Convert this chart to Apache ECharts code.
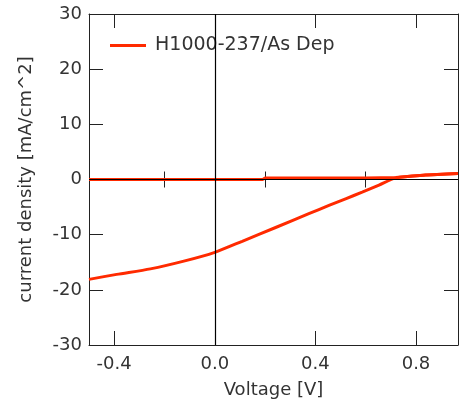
<!DOCTYPE html>
<html><head><meta charset="utf-8">
<script src="https://cdn.jsdelivr.net/npm/echarts@6/dist/echarts.min.js"></script>
<style>html,body{margin:0;padding:0;background:#fff}#c{width:459px;height:406px}</style>
</head><body><div id="c"></div>
<script>
const seriesName = 'H1000-237/As Dep';
const xMajorTicks = [-0.4, 0.0, 0.4, 0.8];
const xMinorTicks = [-0.2, 0.2, 0.6];
const lightV = [-0.5, -0.39, -0.256, -0.123, 0.0, 0.109, 0.242, 0.374, 0.454, 0.52, 0.586, 0.653, 0.72, 0.838, 0.967];
const lightJ = [-18.1, -17.2, -16.2, -14.8, -13.2, -11.2, -8.7, -6.2, -4.7, -3.5, -2.3, -1.0, 0.3, 0.8, 1.1];
const darkV = [-0.5, 0.19, 0.2, 0.6, 0.72, 0.838, 0.967];
const darkJ = [0.0, 0.0, 0.25, 0.25, 0.35, 0.8, 1.1];

const font = 'DejaVu Sans';
const txt = '#333';
const axc = '#222';
const red = '#ff2a00';
const pair = (a, b) => a.map((v, i) => [v, b[i]]);

const xBase = {type: 'value', min: -0.5, max: 0.967, gridIndex: 0, splitLine: {show: false}};
const chart = echarts.init(document.getElementById('c'));
chart.setOption({
  animation: false,
  grid: {left: 89, right: 1, top: 14, bottom: 61},
  legend: {
    data: [{name: seriesName, icon: 'rect'}], left: 110, top: 36, padding: 0,
    itemWidth: 36, itemHeight: 3,
    textStyle: {fontFamily: font, fontSize: 19, color: txt, padding: [0, 0, 0, 4]}
  },
  xAxis: [
    Object.assign({}, xBase, {
      position: 'bottom', name: 'Voltage [V]', nameLocation: 'middle', nameGap: 36,
      nameTextStyle: {fontFamily: font, fontSize: 18, color: txt},
      axisLine: {onZero: false, lineStyle: {color: axc, width: 1}},
      axisTick: {inside: true, length: 14, customValues: xMajorTicks, lineStyle: {color: axc}},
      axisLabel: {customValues: xMajorTicks, margin: 10, fontFamily: font, fontSize: 18, color: txt,
        formatter: v => (Math.abs(v) < 1e-9 ? 0 : v).toFixed(1)}
    }),
    Object.assign({}, xBase, {
      position: 'bottom', axisLine: {show: false},
      axisTick: {inside: true, length: 8, customValues: xMinorTicks, lineStyle: {color: axc}},
      axisLabel: {show: false}
    }),
    Object.assign({}, xBase, {
      position: 'top', axisLine: {onZero: false, lineStyle: {color: axc, width: 1}},
      axisTick: {inside: true, length: 14, customValues: xMajorTicks, lineStyle: {color: axc}},
      axisLabel: {show: false}
    }),
    Object.assign({}, xBase, {
      position: 'top', axisLine: {show: false},
      axisTick: {inside: true, length: 8, customValues: xMinorTicks, lineStyle: {color: axc}},
      axisLabel: {show: false}
    })
  ],
  yAxis: [
    {type: 'value', min: -30, max: 30, interval: 10, position: 'left',
      name: 'current density [mA/cm^2]', nameLocation: 'middle', nameGap: 54,
      nameTextStyle: {fontFamily: font, fontSize: 18, color: txt},
      splitLine: {show: false},
      axisLine: {onZero: false, lineStyle: {color: axc, width: 1}},
      axisTick: {inside: true, length: 14, lineStyle: {color: axc}},
      axisLabel: {margin: 7, fontFamily: font, fontSize: 18, color: txt}
    },
    {type: 'value', min: -30, max: 30, interval: 10, position: 'right',
      splitLine: {show: false},
      axisLine: {onZero: false, lineStyle: {color: axc, width: 1}},
      axisTick: {inside: true, length: 14, lineStyle: {color: axc}},
      axisLabel: {show: false}
    }
  ],
  series: [
    {type: 'line', name: 'zero', data: [], z: 1, silent: true,
      markLine: {silent: true, symbol: 'none', label: {show: false},
        lineStyle: {color: '#000', width: 1.2, type: 'solid'},
        emphasis: {disabled: true},
        data: [{xAxis: 0}, {yAxis: 0}]}},
    {type: 'line', name: seriesName, data: pair(darkV, darkJ), symbol: 'none', z: 3,
      lineStyle: {color: red, width: 3}, itemStyle: {color: red}},
    {type: 'line', name: seriesName, data: pair(lightV, lightJ), symbol: 'none', smooth: 0.25, z: 3,
      lineStyle: {color: red, width: 3}, itemStyle: {color: red}}
  ]
});
</script></body></html>
